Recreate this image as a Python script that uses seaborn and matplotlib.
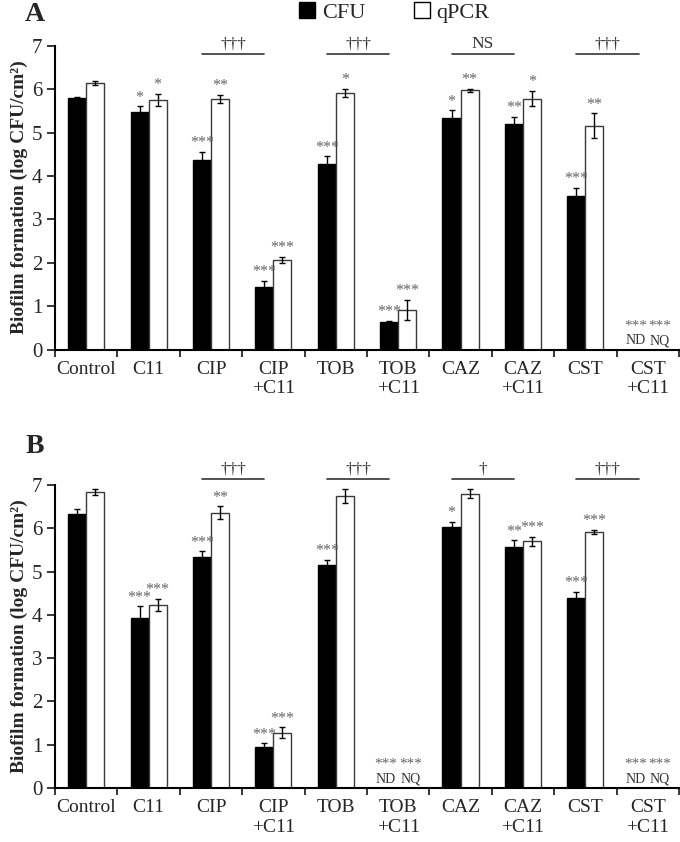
import numpy as np
import pandas as pd
import matplotlib
matplotlib.use("Agg")
import matplotlib.pyplot as plt
import seaborn as sns
from matplotlib.patches import Patch

# categories and series
treatments = ["Control", "C11", "CIP", "CIP\n+C11", "TOB", "TOB\n+C11",
              "CAZ", "CAZ\n+C11", "CST", "CST\n+C11"]
methods = ["CFU", "qPCR"]

# panel A
a_cfu = [5.79, 5.48, 4.37, 1.43, 4.28, 0.64, 5.33, 5.20, 3.54, 0.0]
a_cfu_err = [0.03, 0.12, 0.18, 0.15, 0.17, 0.02, 0.18, 0.16, 0.18, 0.0]
a_qpcr = [6.14, 5.75, 5.78, 2.07, 5.91, 0.91, 5.97, 5.78, 5.16, 0.0]
a_qpcr_err = [0.04, 0.14, 0.09, 0.07, 0.09, 0.23, 0.03, 0.18, 0.28, 0.0]
a_cfu_sig = ["", "*", "***", "***", "***", "***", "*", "**", "***", "***"]
a_qpcr_sig = ["", "*", "**", "***", "*", "***", "**", "*", "**", "***"]
a_cfu_note = ["", "", "", "", "", "", "", "", "", "ND"]
a_qpcr_note = ["", "", "", "", "", "", "", "", "", "NQ"]
a_pair_labels = ["†††", "†††", "NS", "†††"]

# panel B
b_cfu = [6.33, 3.92, 5.33, 0.94, 5.16, 0.0, 6.03, 5.58, 4.38, 0.0]
b_cfu_err = [0.12, 0.28, 0.14, 0.09, 0.12, 0.0, 0.12, 0.14, 0.16, 0.0]
b_qpcr = [6.85, 4.23, 6.36, 1.28, 6.74, 0.0, 6.80, 5.70, 5.92, 0.0]
b_qpcr_err = [0.07, 0.14, 0.15, 0.12, 0.16, 0.0, 0.10, 0.11, 0.05, 0.0]
b_cfu_sig = ["", "***", "***", "***", "***", "***", "*", "**", "***", "***"]
b_qpcr_sig = ["", "***", "**", "***", "", "***", "", "***", "***", "***"]
b_cfu_note = ["", "", "", "", "", "ND", "", "", "", "ND"]
b_qpcr_note = ["", "", "", "", "", "NQ", "", "", "", "NQ"]
b_pair_labels = ["†††", "†††", "†", "†††"]

# antibiotic vs antibiotic + C11 comparisons
pairs = [(2, 3), (4, 5), (6, 7), (8, 9)]

sns.set_style("ticks")
plt.rcParams["font.family"] = ["Liberation Serif", "DejaVu Serif"]

fig = plt.figure(figsize=(6.8, 8.42), dpi=100)
ax_a = fig.add_axes([0.0809, 0.5849, 0.9176, 0.3608])
ax_b = fig.add_axes([0.0809, 0.0641, 0.9176, 0.3598])


def draw_panel(ax, cfu, cfu_err, qpcr, qpcr_err, cfu_sig, qpcr_sig,
               cfu_note, qpcr_note, pair_labels, line_y):
    df = pd.DataFrame({
        "treatment": treatments * 2,
        "method": ["CFU"] * len(treatments) + ["qPCR"] * len(treatments),
        "value": cfu + qpcr,
    })
    sns.barplot(data=df, x="treatment", y="value", hue="method",
                order=treatments, hue_order=methods,
                palette={"CFU": "black", "qPCR": "white"},
                width=0.58, gap=0, errorbar=None,
                edgecolor="black", linewidth=1.0, ax=ax, legend=False)
    for bar in ax.containers[1]:
        bar.set_edgecolor("#3a3a3a")

    series = [(cfu_err, cfu_sig, cfu_note, -2.2), (qpcr_err, qpcr_sig, qpcr_note, 2.2)]
    centers = []
    for cont, (errs, sigs, notes, dx) in zip(ax.containers, series):
        xs = [b.get_x() + b.get_width() / 2 for b in cont]
        hs = [b.get_height() for b in cont]
        centers.append(xs)
        keep = [i for i, e in enumerate(errs) if e > 0]
        ax.errorbar([xs[i] for i in keep], [hs[i] for i in keep],
                    yerr=[errs[i] for i in keep], fmt="none", ecolor="black",
                    elinewidth=1.0, capsize=2.2, capthick=1.0, zorder=5)
        for x, h, e, s, n in zip(xs, hs, errs, sigs, notes):
            if n:
                ax.annotate(n, (x, 0), xytext=(dx, 1.5), textcoords="offset points",
                            ha="center", va="bottom", fontsize=10, color="#333333",
                            annotation_clip=False)
                ax.annotate(s, (x, 0), xytext=(dx, 12.5), textcoords="offset points",
                            ha="center", va="bottom", fontsize=11, color="#666666",
                            annotation_clip=False)
            elif s:
                ax.annotate(s, (x, h + e), xytext=(0, 0.5), textcoords="offset points",
                            ha="center", va="bottom", fontsize=11.5, color="#666666",
                            annotation_clip=False)

    for (i, j), lab in zip(pairs, pair_labels):
        x0, x1 = centers[0][i], centers[0][j]
        ax.plot([x0, x1], [line_y, line_y], color="#333333", lw=1.2, clip_on=False)
        ax.annotate(lab, ((x0 + x1) / 2, line_y), xytext=(0, 1.0),
                    textcoords="offset points", ha="center", va="bottom",
                    fontsize=12.5, color="#333333", annotation_clip=False)

    ax.set_ylim(0, 7)
    ax.set_xlim(-0.5, 9.5)
    ax.set_yticks(range(8))
    ax.tick_params(axis="y", labelsize=15, length=6, width=1.3, direction="out", pad=3)
    ax.set_xticks(np.arange(-0.5, 10, 1))
    ax.set_xticklabels([])
    ax.tick_params(axis="x", which="major", length=5, width=1.3, direction="out")
    ax.set_xticks(range(len(treatments)), minor=True)
    ax.set_xticklabels(treatments, minor=True, fontsize=14)
    ax.tick_params(axis="x", which="minor", length=0, pad=8)
    ax.set_xlabel("")
    ax.set_ylabel("Biofilm formation (log CFU/cm²)", fontsize=14,
                  fontweight="bold", labelpad=3)
    for side in ["left", "bottom"]:
        ax.spines[side].set_linewidth(1.5)
        ax.spines[side].set_color("black")
    sns.despine(ax=ax)


draw_panel(ax_a, a_cfu, a_cfu_err, a_qpcr, a_qpcr_err, a_cfu_sig, a_qpcr_sig,
           a_cfu_note, a_qpcr_note, a_pair_labels, 6.82)
draw_panel(ax_b, b_cfu, b_cfu_err, b_qpcr, b_qpcr_err, b_cfu_sig, b_qpcr_sig,
           b_cfu_note, b_qpcr_note, b_pair_labels, 7.14)

fig.text(0.037, 0.983, "A", fontsize=20, fontweight="bold", va="center")
fig.text(0.037, 0.4695, "B", fontsize=20, fontweight="bold", va="center")

handles = [Patch(facecolor="black", edgecolor="black"),
           Patch(facecolor="white", edgecolor="black")]
fig.legend(handles, methods, loc="center", bbox_to_anchor=(0.58, 0.985),
           ncol=2, frameon=False, fontsize=16, handlelength=0.7,
           handleheight=0.7, handletextpad=0.3, columnspacing=2.2)

fig.savefig("out.png", dpi=100)
